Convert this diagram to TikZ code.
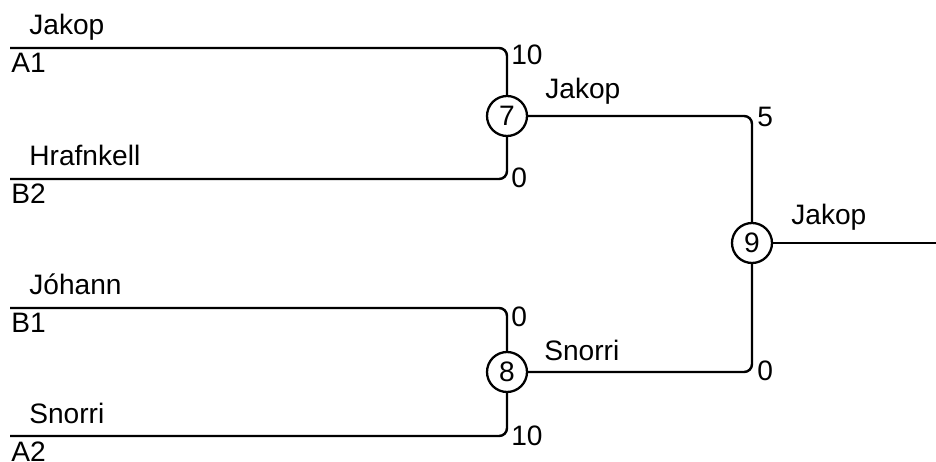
\documentclass[tikz,border=0pt]{standalone}
\usepackage{fontspec}
\setmainfont{Liberation Sans}
\usetikzlibrary{calc}
\newcommand\entrant[4]{%
  \coordinate (#1) at (10,#2);
  \node[lbl] (#1p) at (29,#2-13) {#3};
  \node[lbl] (#1c) at (11,#2+25) {#4};
}

\begin{document}
\begin{tikzpicture}
[x=0.02cm, y=-0.02cm,
 lbl/.style={anchor=base west, inner sep=0, font=\fontsize{16}{19}\selectfont},
 match/.style={circle, draw, line width=1.3pt, minimum size=0.8cm, inner sep=0,
               font=\fontsize{16}{19}\selectfont},
 wire/.style={line width=1.4pt, rounded corners=4.5pt}]
\useasboundingbox (0,0) rectangle (936,462);
\entrant{e1}{48} {Jakop}    {A1}
\entrant{e2}{179}{Hrafnkell}{B2}
\entrant{e3}{308}{Jóhann}   {B1}
\entrant{e4}{436}{Snorri}   {A2}
\node[match] (m7) at (507,116) {7};
\node[match] (m8) at (507,372) {8};
\node[match] (m9) at (752,243) {9};
\coordinate (out) at (936,243);
\draw[wire] (e1) -| (m7);
\draw[wire] (e2) -| (m7);
\draw[wire] (e3) -| (m8);
\draw[wire] (e4) -| (m8);
\draw[wire] (m7) -| (m9);
\draw[wire] (m8) -| (m9);
\draw[wire] (m9) -- (out);
% winners
\node[lbl] (w7) at (545,99)  {Jakop};
\node[lbl] (w8) at (544,360) {Snorri};
\node[lbl] (w9) at (791,225) {Jakop};
% scores
\foreach \x/\y/\s [count=\i] in {511/65/10, 511/188/0, 511/327/0, 511/445/10, 757/127/5, 757/380/0}
  \node[lbl] (s\i) at (\x,\y) {\s};
\end{tikzpicture}
\end{document}
